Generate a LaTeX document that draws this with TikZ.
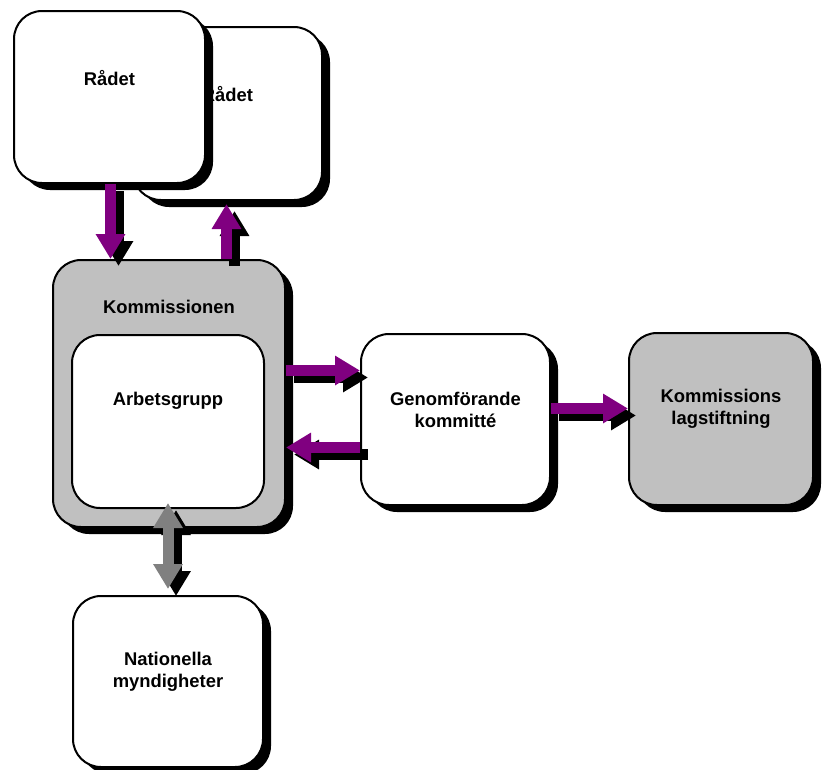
\documentclass[tikz,border=0pt]{standalone}
\usepackage{fontspec}
\setmainfont{Liberation Sans}
\usetikzlibrary{shadows,arrows.meta,calc}

\definecolor{flowpurple}{HTML}{800080}
\definecolor{flowgray}{HTML}{808080}
\definecolor{boxgray}{HTML}{C0C0C0}

\begin{document}
\begin{tikzpicture}[x=1pt,y=-1pt,>={Triangle[width=28pt,length=25pt]}]
	\tikzstyle{box}=[draw=black,line width=2pt,rounded corners=28pt,fill=white,inner sep=0pt]
	\tikzstyle{shadowbox}=[box,drop shadow={shadow xshift=8pt,shadow yshift=-7pt,fill=black,opacity=1}]
	\tikzstyle{lbl}=[align=center,font=\bfseries\fontsize{18.4}{22}\selectfont,inner sep=0pt]
	\tikzstyle{flow}=[line width=11pt,->]
	\useasboundingbox (0,0) rectangle (822,769);

	% the two council boxes, back one first
	\node[shadowbox,minimum width=189pt,minimum height=173pt] (radetB) at (227.5,113.5) {};
	\node[lbl] (radetBtxt) at ([yshift=-68pt]radetB.north) {Rådet};
	\node[shadowbox,minimum width=191pt,minimum height=172pt] (radetA) at (109.5,97) {};
	\node[lbl] (radetAtxt) at ([yshift=-68pt]radetA.north) {Rådet};

	% commission with its working group
	\node[shadowbox,fill=boxgray,minimum width=232pt,minimum height=267pt] (komm) at (169,393.5) {};
	\node[lbl] (kommtxt) at ([yshift=-48pt]komm.north) {Kommissionen};
	\node[box,minimum width=192pt,minimum height=173pt] (arbets) at (168,421.5) {};
	\node[lbl] (arbetstxt) at ([yshift=-67pt]arbets.north) {Arbetsgrupp};

	\node[shadowbox,minimum width=189pt,minimum height=171pt] (genom) at (455.5,419.5) {};
	\node[lbl] (genomtxt) at ([yshift=-77pt]genom.north) {Genomförande\\kommitté};
	\node[shadowbox,fill=boxgray,minimum width=184pt,minimum height=172pt] (lag) at (721,419) {};
	\node[lbl] (lagtxt) at ([yshift=-77pt]lag.north) {Kommissions\\lagstiftning};
	\node[shadowbox,minimum width=190pt,minimum height=171pt] (nat) at (168,681.5) {};
	\node[lbl] (nattxt) at ([yshift=-77pt]nat.north) {Nationella\\myndigheter};

	% arrow ends
	\coordinate (dnS) at ([xshift=1pt]radetA.south);
	\coordinate (dnE) at ([xshift=1pt]radetA.south |- komm.north);
	\coordinate (upS) at ([xshift=-1pt]radetB.south |- komm.north);
	\coordinate (upE) at ([xshift=-1pt,yshift=-3pt]radetB.south);
	\coordinate (toS) at ([yshift=23pt]komm.east);
	\coordinate (toE) at ([yshift=23pt]komm.east -| genom.west);
	\coordinate (fromS) at ([yshift=-28pt]genom.west);
	\coordinate (fromE) at ([yshift=-28pt]genom.west -| komm.east);
	\coordinate (lagS) at ([yshift=11pt]genom.east);
	\coordinate (lagE) at ([yshift=11pt]genom.east -| lag.west);
	\coordinate (natS) at ([yshift=6pt]arbets.south);
	\coordinate (natE) at ([yshift=6pt]nat.north);

	\foreach \s/\e in {dnS/dnE,upS/upE,toS/toE,fromS/fromE,lagS/lagE} {
		\draw[flow,black] ($(\s)+(8pt,-7pt)$) -- ($(\e)+(8pt,-7pt)$);
		\draw[flow,flowpurple] (\s) -- (\e);
	}
	\draw[flow,black,<->] ($(natS)+(8pt,-7pt)$) -- ($(natE)+(8pt,-7pt)$);
	\draw[flow,flowgray,<->] (natS) -- (natE);
\end{tikzpicture}
\end{document}
